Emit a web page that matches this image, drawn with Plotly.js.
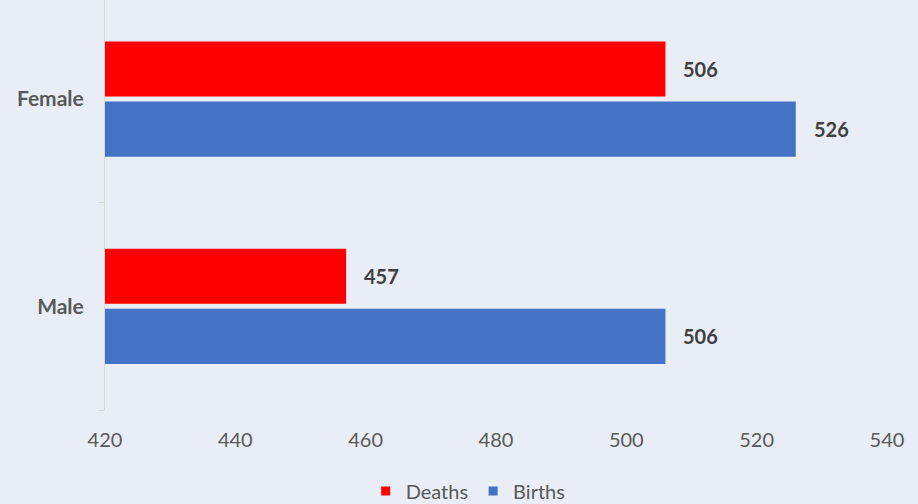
<!DOCTYPE html>
<html>
<head>
<meta charset="utf-8">
<script src="https://cdn.plot.ly/plotly-3.0.1.min.js"></script>
<style>html,body{margin:0;padding:0;background:#e8edf6;}#chart{width:918px;height:504px;}</style>
</head>
<body>
<div id="chart"></div>
<script>
const categories = ["Male", "Female"];
const deaths = [457, 506];
const births = [506, 526];
const xTicks = [420, 440, 460, 480, 500, 520, 540];

const fontFam = "Lato, 'Open Sans', sans-serif";
const RED = "#ff0000", BLUE = "#4472c4";

const traces = [
  {type: "bar", orientation: "h", name: "Births", y: categories, x: births,
   marker: {color: BLUE}, hoverinfo: "x+name", showlegend: false},
  {type: "bar", orientation: "h", name: "Deaths", y: categories, x: deaths,
   marker: {color: RED}, hoverinfo: "x+name", showlegend: false},
  // legend-only entries with small square swatches
  {type: "scatter", mode: "markers", name: "Deaths", x: [null], y: [null],
   marker: {symbol: "square", size: 9, color: RED}, legendrank: 1},
  {type: "scatter", mode: "markers", name: "Births", x: [null], y: [null],
   marker: {symbol: "square", size: 9, color: BLUE}, legendrank: 2}
];

const annotations = [];
function addLabels(vals, off) {
  vals.forEach((v, i) => {
    annotations.push({x: v, y: categories[i], xref: "x", yref: "y",
      text: "<b>" + v + "</b>", showarrow: false, xanchor: "left",
      xshift: 16, yshift: off, font: {family: fontFam, size: 20, color: "#404040"}});
  });
}
addLabels(deaths, 30);
addLabels(births, -30);

const layout = {
  width: 918, height: 504,
  paper_bgcolor: "#e8edf6", plot_bgcolor: "#e8edf6",
  margin: {l: 105, r: 31, t: 0, b: 94},
  barmode: "group", bargap: 0.42, bargroupgap: 0.083,
  font: {family: fontFam, color: "#595959"},
  xaxis: {range: [420, 540], tickvals: xTicks, showgrid: false, zeroline: false,
    showline: false, ticks: "outside", ticklen: 12, tickcolor: "rgba(0,0,0,0)",
    automargin: false,
    tickfont: {size: 20, color: "#595959", family: fontFam}},
  yaxis: {type: "category", categoryorder: "array", categoryarray: categories,
    range: [-0.5, 1.478], automargin: false,
    showgrid: false, zeroline: false, showline: true, linecolor: "#d9d9d9", linewidth: 1,
    ticks: "outside", tickson: "boundaries", ticklen: 5, tickcolor: "#d9d9d9",
    ticklabelstandoff: 16,
    tickfont: {size: 21, color: "#595959", family: fontFam, weight: "bold"}},
  showlegend: true,
  legend: {orientation: "h", xref: "container", yref: "container",
    x: 0.51, xanchor: "center", y: 0.026, yanchor: "middle",
    font: {size: 20, color: "#595959", family: fontFam},
    itemwidth: 30, bgcolor: "rgba(0,0,0,0)"},
  annotations: annotations
};

Plotly.newPlot("chart", traces, layout, {displayModeBar: false});
</script>
</body>
</html>
